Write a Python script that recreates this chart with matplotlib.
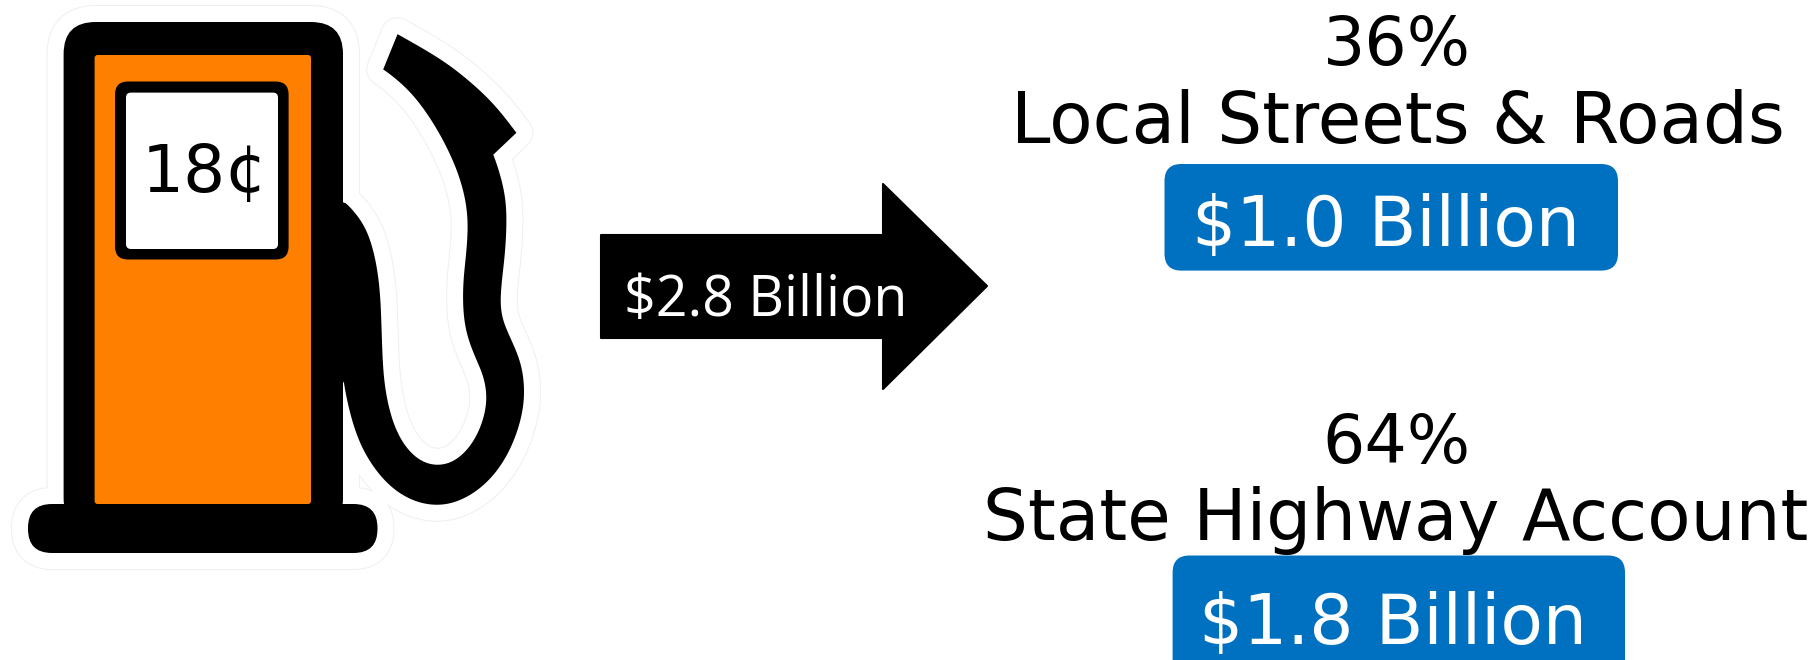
"""
Gas tax split graphic, drawn in pixel coordinates
"""
import numpy as np
import matplotlib
matplotlib.use("Agg")
import matplotlib.pyplot as plt
from matplotlib.patches import FancyBboxPatch, PathPatch, Polygon
from matplotlib.path import Path

# values shown on the chart
tax_label = "18¢"
total_label = "$2.8 Billion"
shares = ["36%", "64%"]
accounts = ["Local Streets & Roads", "State Highway Account"]
amounts = ["$1.0 Billion", "$1.8 Billion"]

BLUE = "#0070C0"
ORANGE = "#FF8000"
HALO = "#EFEFEF"


def catmull(pts, n=14, win=21):
    """Smooth open run through the given points, ends stay put"""
    pts = np.array(pts, dtype=float)
    p = np.vstack([pts[0], pts, pts[-1]])
    out = []
    for i in range(1, len(p) - 2):
        for t in np.linspace(0, 1, n, endpoint=False):
            out.append(0.5 * (2 * p[i] + (p[i + 1] - p[i - 1]) * t
                              + (2 * p[i - 1] - 5 * p[i] + 4 * p[i + 1] - p[i + 2]) * t ** 2
                              + (3 * p[i] - p[i - 1] - 3 * p[i + 1] + p[i + 2]) * t ** 3))
    out.append(p[-2])
    out = np.array(out)
    # moving average takes out the kinks from uneven tracing
    padded = np.vstack([np.repeat(out[:1], win // 2, axis=0), out,
                        np.repeat(out[-1:], win // 2, axis=0)])
    kernel = np.ones(win) / win
    return np.column_stack([np.convolve(padded[:, k], kernel, mode="valid") for k in range(2)])


def rbox(x0, y0, x1, y1, r, **kw):
    return FancyBboxPatch((x0, y0), x1 - x0, y1 - y0,
                          boxstyle="round,pad=0,rounding_size=%s" % r, **kw)


fig = plt.figure(figsize=(18.17, 6.6), dpi=100)
ax = fig.add_axes([0, 0, 1, 1])
ax.set_xlim(0, 1817)
ax.set_ylim(660, 0)
ax.axis("off")

inner = [(960, 525), (1010, 570), (1050, 660), (1068, 800), (1070, 950), (1090, 1080),
         (1140, 1180), (1220, 1222), (1300, 1190), (1350, 1110), (1365, 1030), (1345, 960),
         (1310, 890), (1295, 800), (1300, 700), (1312, 600), (1300, 500), (1260, 400),
         (1200, 300), (1130, 220), (1062, 175)]
top = [(1105, 85), (1250, 165), (1370, 260), (1450, 352)]
outer = [(1375, 390), (1410, 480), (1420, 580), (1410, 700), (1400, 780), (1410, 850),
         (1450, 920), (1472, 1020), (1450, 1130), (1390, 1240), (1300, 1305), (1220, 1322),
         (1130, 1300), (1045, 1225), (985, 1110), (960, 980)]
hose = np.vstack([catmull(inner), catmull(top, win=9), catmull(outer), [(950, 980), (950, 525)]])
hose = hose / [2.8, 2.613]


def silhouette(**kw):
    """Body, base and hose with the same styling, used for the sticker edge"""
    return [rbox(63.6, 22, 343, 530, 32, **kw),
            rbox(28, 504, 377.5, 553, 24, **kw),
            PathPatch(Path(np.vstack([hose, hose[0]]), closed=True), **kw)]


# sticker edge: faint line 16 px out from the black shapes
for col, lw in [(HALO, 34), ("white", 32)]:
    for p in silhouette(facecolor=col, edgecolor=col, linewidth=lw * 0.72, joinstyle="round"):
        ax.add_patch(p)

for p in silhouette(facecolor="black", edgecolor="none"):
    ax.add_patch(p)

ax.add_patch(rbox(94.6, 55, 311, 504, 3, facecolor=ORANGE, edgecolor="none"))
ax.add_patch(rbox(115, 81.5, 288.6, 259.5, 13, facecolor="black", edgecolor="none"))
ax.add_patch(rbox(126, 92.6, 278, 249, 5, facecolor="white", edgecolor="none"))
ax.text(205, 192, tax_label, color="black", fontsize=47.5, ha="center", va="baseline")

# arrow
ax.add_patch(Polygon([(601, 235), (883, 235), (883, 184), (987, 286), (883, 389),
                      (883, 338), (601, 338)], closed=True, facecolor="black",
                     edgecolor="black", linewidth=1.5, joinstyle="round"))
ax.text(766, 316, total_label, color="white", fontsize=40, ha="center", va="baseline",
        family="Open Sans", weight="medium")

# right hand blocks
share_x = [1397, 1396]
share_y = [65, 463]
acc_x = [1397.5, 1395.5]
acc_y = [143, 540]
box_x = [(1164.5, 1618), (1172.6, 1625)]
box_y = [(164, 270.6), (555.5, 690)]
amt_x = [1386, 1392.5]
amt_y = [246, 644]

for i in range(2):
    ax.add_patch(rbox(box_x[i][0], box_y[i][0], box_x[i][1], box_y[i][1], 17,
                      facecolor=BLUE, edgecolor="none"))
    ax.text(share_x[i], share_y[i], shares[i], color="black", fontsize=48,
            ha="center", va="baseline")
    ax.text(acc_x[i], acc_y[i], accounts[i], color="black", fontsize=51,
            ha="center", va="baseline")
    ax.text(amt_x[i], amt_y[i], amounts[i], color="white", fontsize=50,
            ha="center", va="baseline")

fig.savefig("out.png", dpi=100, facecolor="white")
